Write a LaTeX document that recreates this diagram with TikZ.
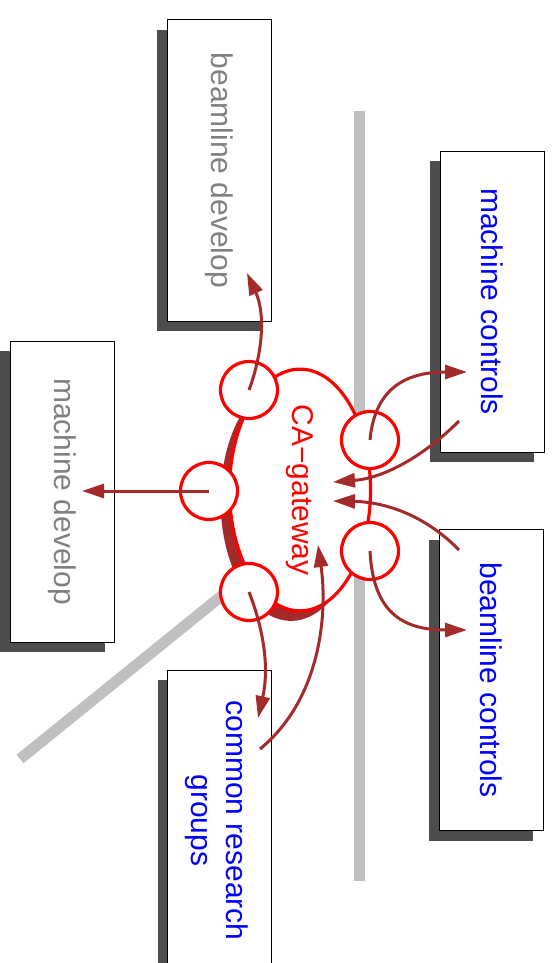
\documentclass[tikz,border=0pt]{standalone}
\usepackage{fontspec}
\setmainfont{Liberation Sans}
\usepackage{graphicx}
\usetikzlibrary{arrows.meta,shapes.geometric,shadows}
\definecolor{linkbrown}{RGB}{165,42,42}
\definecolor{wallgray}{RGB}{192,192,192}
\definecolor{shadowgray}{RGB}{77,77,77}
\definecolor{devgray}{RGB}{128,128,128}
\begin{document}
\begin{tikzpicture}[x=1pt,y=-1pt,font=\fontsize{30}{35}\selectfont,
        box/.style={draw=black,line width=1pt,fill=white,minimum width=104pt,minimum height=301pt,inner sep=0pt,
            drop shadow={shadow xshift=-10pt,shadow yshift=-10pt,fill=shadowgray,opacity=1}},
        port/.style={circle,draw=red,line width=3.2pt,fill=white,minimum size=57pt,inner sep=0pt},
        wall/.style={wallgray,line width=11pt},
        link/.style={linkbrown,line width=3pt,-{Triangle[length=22pt,width=14pt]}}]
        \useasboundingbox (0,0) rectangle (554,963);
        \draw[wall] (359.5,111) -- (359.5,881);
        \draw[wall] (20,759) -- (240,581);
        \node[box,text=devgray] (bdev) at (219,170.5) {\rotatebox{-90}{beamline develop}};
        \node[box,text=devgray] (mdev) at (62.5,491.5) {\rotatebox{-90}{machine develop}};
        \node[box,text=blue] (mcon) at (492,301.5) {\rotatebox{-90}{machine controls}};
        \node[box,text=blue] (bcon) at (491,680) {\rotatebox{-90}{beamline controls}};
        \node[box,text=blue] (crg) at (219.5,820.5) {\rotatebox{-90}{\begin{tabular}{@{}c@{}}common research\\groups\end{tabular}}\hspace*{8pt}};
        \node[ellipse,draw=red,line width=3.2pt,fill=white,text=red,minimum width=141pt,minimum height=196pt,inner sep=0pt,
            drop shadow={shadow xshift=-9pt,shadow yshift=-10pt,fill=linkbrown,opacity=1}] (gw) at (300,490) {\rotatebox{-90}{CA−gateway}};
        \node[port] (c1) at (249,390) {};
        \node[port] (c2) at (209,491) {};
        \node[port] (c3) at (249,592) {};
        \node[port] (c4) at (370,440) {};
        \node[port] (c5) at (370,551) {};
        \coordinate (bdev-in) at (247,273);
        \coordinate (mdev-in) at (82,491);
        \coordinate (crg-in) at (258,718);
        \coordinate (crg-out) at (260,749);
        \coordinate (mcon-in) at (467,372);
        \coordinate (mcon-out) at (459,421);
        \coordinate (bcon-in) at (467,630);
        \coordinate (bcon-out) at (459,550);
        \coordinate (gw-a) at (333,482);
        \coordinate (gw-b) at (333,501);
        \coordinate (gw-c) at (318,545);
        \draw[link] (c1.center) .. controls (262,355) and (266,315) .. (bdev-in);
        \draw[link] (c2.center) -- (mdev-in);
        \draw[link] (c3.center) .. controls (262,625) and (270,665) .. (crg-in);
        \draw[link] (crg-out) .. controls (320,700) and (328,615) .. (gw-c);
        \draw[link] (c4.center) .. controls (375,385) and (410,372) .. (mcon-in);
        \draw[link] (mcon-out) .. controls (425,455) and (385,478) .. (gw-a);
        \draw[link] (bcon-out) .. controls (425,515) and (385,502) .. (gw-b);
        \draw[link] (c5.center) .. controls (373,610) and (400,630) .. (bcon-in);
    \end{tikzpicture}
\end{document}
